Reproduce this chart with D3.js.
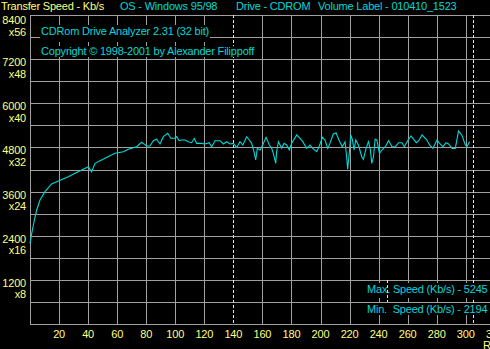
<!DOCTYPE html>
<html>
<head>
<meta charset="utf-8">
<script src="https://cdn.jsdelivr.net/npm/d3@7"></script>
<style>
  body { margin: 0; background: #000; overflow: hidden; }
  text { font-family: "Liberation Sans", Arial, sans-serif; font-size: 11px; letter-spacing: -0.2px; }
</style>
</head>
<body>
<div id="chart"></div>
<script>
// position on disc (MB) and read speed (Kb/s)
let positionMb = [0, 1.2, 3, 4.6, 6.9, 10.3, 14.9, 19.5, 26.4, 31, 40.2, 42.4, 44.8, 51.6, 58.5, 64.3, 67.7, 73.4,
  76.9, 80.3, 82.6, 84.9, 87.2, 89.5, 91.8, 94.8, 96.9, 99.8, 101, 102.6, 104.4, 106.7, 109, 111.3, 113.1, 114.7,
  118.2, 120.5, 123.4, 125.1, 127.4, 130.8, 133.1, 135.4, 137.7, 140, 142.3, 144.6, 146.5, 149.2, 151, 152.6,
  154.2, 155.4, 156.5, 158.4, 160.2, 162.5, 164.8, 166.4, 167.5, 169.2, 169.8, 171, 173.3, 174.9, 176.7, 178.5,
  180.2, 183.6, 185.9, 187.8, 190.5, 192.8, 194.6, 197.4, 199.2, 201.3, 203.1, 205, 206.5, 208.8, 210.7, 212.7,
  215, 216.9, 218, 218.7, 219.9, 220.8, 222, 223.1, 224.3, 226.1, 228.4, 229.5, 231.4, 233, 234.2, 235.3, 236.5,
  237.6, 238.8, 240.6, 242.3, 244.6, 246.9, 249.2, 251.5, 253.8, 256.1, 257.7, 260, 262.3, 264.1, 266, 267.6,
  269.9, 272.9, 275.1, 277.4, 280.2, 282, 284.3, 286.4, 288.2, 290.6, 292.8, 295, 297.3, 299.7, 300.8, 302.6]
let speedKbs = [2194, 2466, 2827, 3099, 3371, 3597, 3806, 3887, 4004, 4096, 4276, 4140, 4368, 4504, 4640, 4684, 4749, 4820,
  4939, 4839, 4839, 4983, 5021, 4893, 5092, 5184, 5048, 5048, 5092, 4983, 5002, 5002, 4956, 4929, 5048, 4911,
  4911, 4893, 4929, 4820, 4983, 4983, 4893, 4956, 4893, 4911, 4803, 4956, 4866, 5092, 5002, 4911,
  4684, 4458, 4775, 4730, 4866, 5075, 4866, 4775, 4640, 4368, 4684, 4956, 4775, 4911, 4866, 4730,
  4911, 5138, 5048, 4956, 4775, 4866, 4775, 4684, 4839, 5075, 5002, 4775, 4911, 5165, 5201, 5002,
  4820, 4956, 4548, 4205, 4684, 5138, 5002, 4730, 5002, 4866, 4548, 4477, 4775, 4956, 4775, 4368, 4548,
  5021, 5002, 4640, 4730, 4820, 4983, 4820, 4820, 4929, 4929, 4820, 4983, 5111, 5021, 4929, 4983,
  5138, 5021, 4866, 4775, 5002, 4911, 4820, 4929, 4893, 4775, 4775, 5245, 5138, 4866, 4820, 4956]

let xTicks = [20, 40, 60, 80, 100, 120, 140, 160, 180, 200, 220, 240, 260, 280, 300, 320]
let yTicks = [1200, 2400, 3600, 4800, 6000, 7200, 8400]
let yMultipliers = ['x8', 'x16', 'x24', 'x32', 'x40', 'x48', 'x56']
let headerTexts = ['Transfer Speed - Kb/s', 'OS - Windows 95/98', 'Drive - CDROM', 'Volume Label - 010410_1523']
let markersMb = [140, 305.2]
let maxSpeed = 5245
let minSpeed = 2194

let width = 490
let height = 349
let yellow = '#ffff80'
let cyan = '#00d8d8'
let gridColor = '#a0a0a0'

let svg = d3
  .select('#chart')
  .append('svg')
  .attr('width', width)
  .attr('height', height)

svg.append('rect').attr('width', width).attr('height', height).attr('fill', '#000')

let x = d3.scaleLinear().domain([0, 320]).range([30, 494.8])
let y = d3.scaleLinear().domain([0, 8400]).range([324, 15])
let px = v => Math.round(v) + 0.5

// grid
let grid = svg.append('g').attr('stroke', gridColor).attr('stroke-width', 1).attr('shape-rendering', 'crispEdges')

grid.selectAll('.h')
  .data(d3.range(0, 8401, 600))
  .enter()
  .append('line')
  .attr('x1', x(0)).attr('x2', width)
  .attr('y1', d => px(y(d))).attr('y2', d => px(y(d)))

grid.selectAll('.v')
  .data([0].concat(xTicks.filter(d => markersMb.indexOf(d) < 0)))
  .enter()
  .append('line')
  .attr('x1', d => px(x(d))).attr('x2', d => px(x(d)))
  .attr('y1', y(8400)).attr('y2', y(0))

// dashed position markers
svg.selectAll('.marker')
  .data(markersMb)
  .enter()
  .append('line')
  .attr('x1', d => px(x(d))).attr('x2', d => px(x(d)))
  .attr('y1', y(8400)).attr('y2', y(0))
  .attr('stroke', '#f0f090')
  .attr('stroke-dasharray', '3,2')
  .attr('shape-rendering', 'crispEdges')

// speed curve
let line = d3.line()
  .x((d, i) => x(positionMb[i]))
  .y(d => y(d))

svg.append('path')
  .datum(speedKbs)
  .attr('d', line)
  .attr('fill', 'none')
  .attr('stroke', cyan)
  .attr('stroke-width', 1.1)

// y labels
svg.selectAll('.ylab')
  .data(yTicks)
  .enter()
  .append('text')
  .attr('x', 26)
  .attr('y', d => Math.max(y(d) + 7, 24))
  .attr('text-anchor', 'end')
  .attr('fill', yellow)
  .text(d => d)

svg.selectAll('.ymul')
  .data(yMultipliers)
  .enter()
  .append('text')
  .attr('x', 26)
  .attr('y', (d, i) => Math.max(y(yTicks[i]) + 18.5, 36))
  .attr('text-anchor', 'end')
  .attr('fill', yellow)
  .text(d => d)

// x labels
svg.selectAll('.xlab')
  .data(xTicks)
  .enter()
  .append('text')
  .attr('x', d => x(d))
  .attr('y', 337.5)
  .attr('text-anchor', 'middle')
  .attr('fill', yellow)
  .text(d => d)

svg.append('text').attr('x', 483).attr('y', 349).attr('fill', yellow).text('R')

// header
let headerX = [1, 120, 236, 318]
svg.selectAll('.head')
  .data(headerTexts)
  .enter()
  .append('text')
  .attr('x', (d, i) => headerX[i])
  .attr('y', 10)
  .attr('fill', (d, i) => i == 0 ? yellow : cyan)
  .text(d => d)

// info boxes
function box(x0, y0, w, h, label, tx, ty) {
  svg.append('rect').attr('x', x0).attr('y', y0).attr('width', w).attr('height', h).attr('fill', '#000')
  svg.append('text').attr('x', tx).attr('y', ty).attr('fill', cyan)
    .style('white-space', 'pre').text(label)
}

box(40, 25, 170, 17, 'CDRom Drive Analyzer 2.31 (32 bit)', 41, 35)
box(40, 46, 215, 11, 'Copyright \u00a9 1998-2001 by Alexander Filippoff', 41, 55)
box(366, 283, 124, 15, 'Max. Speed (Kb/s) - ' + maxSpeed, 367, 293)
box(366, 303, 124, 12, 'Min.  Speed (Kb/s) - ' + minSpeed, 367, 313)

svg.append('line')
  .attr('x1', px(x(246))).attr('x2', px(x(246)))
  .attr('y1', 280).attr('y2', 302)
  .attr('stroke', '#f0f090')
  .attr('stroke-dasharray', '3,2')
  .attr('shape-rendering', 'crispEdges')
</script>
</body>
</html>
